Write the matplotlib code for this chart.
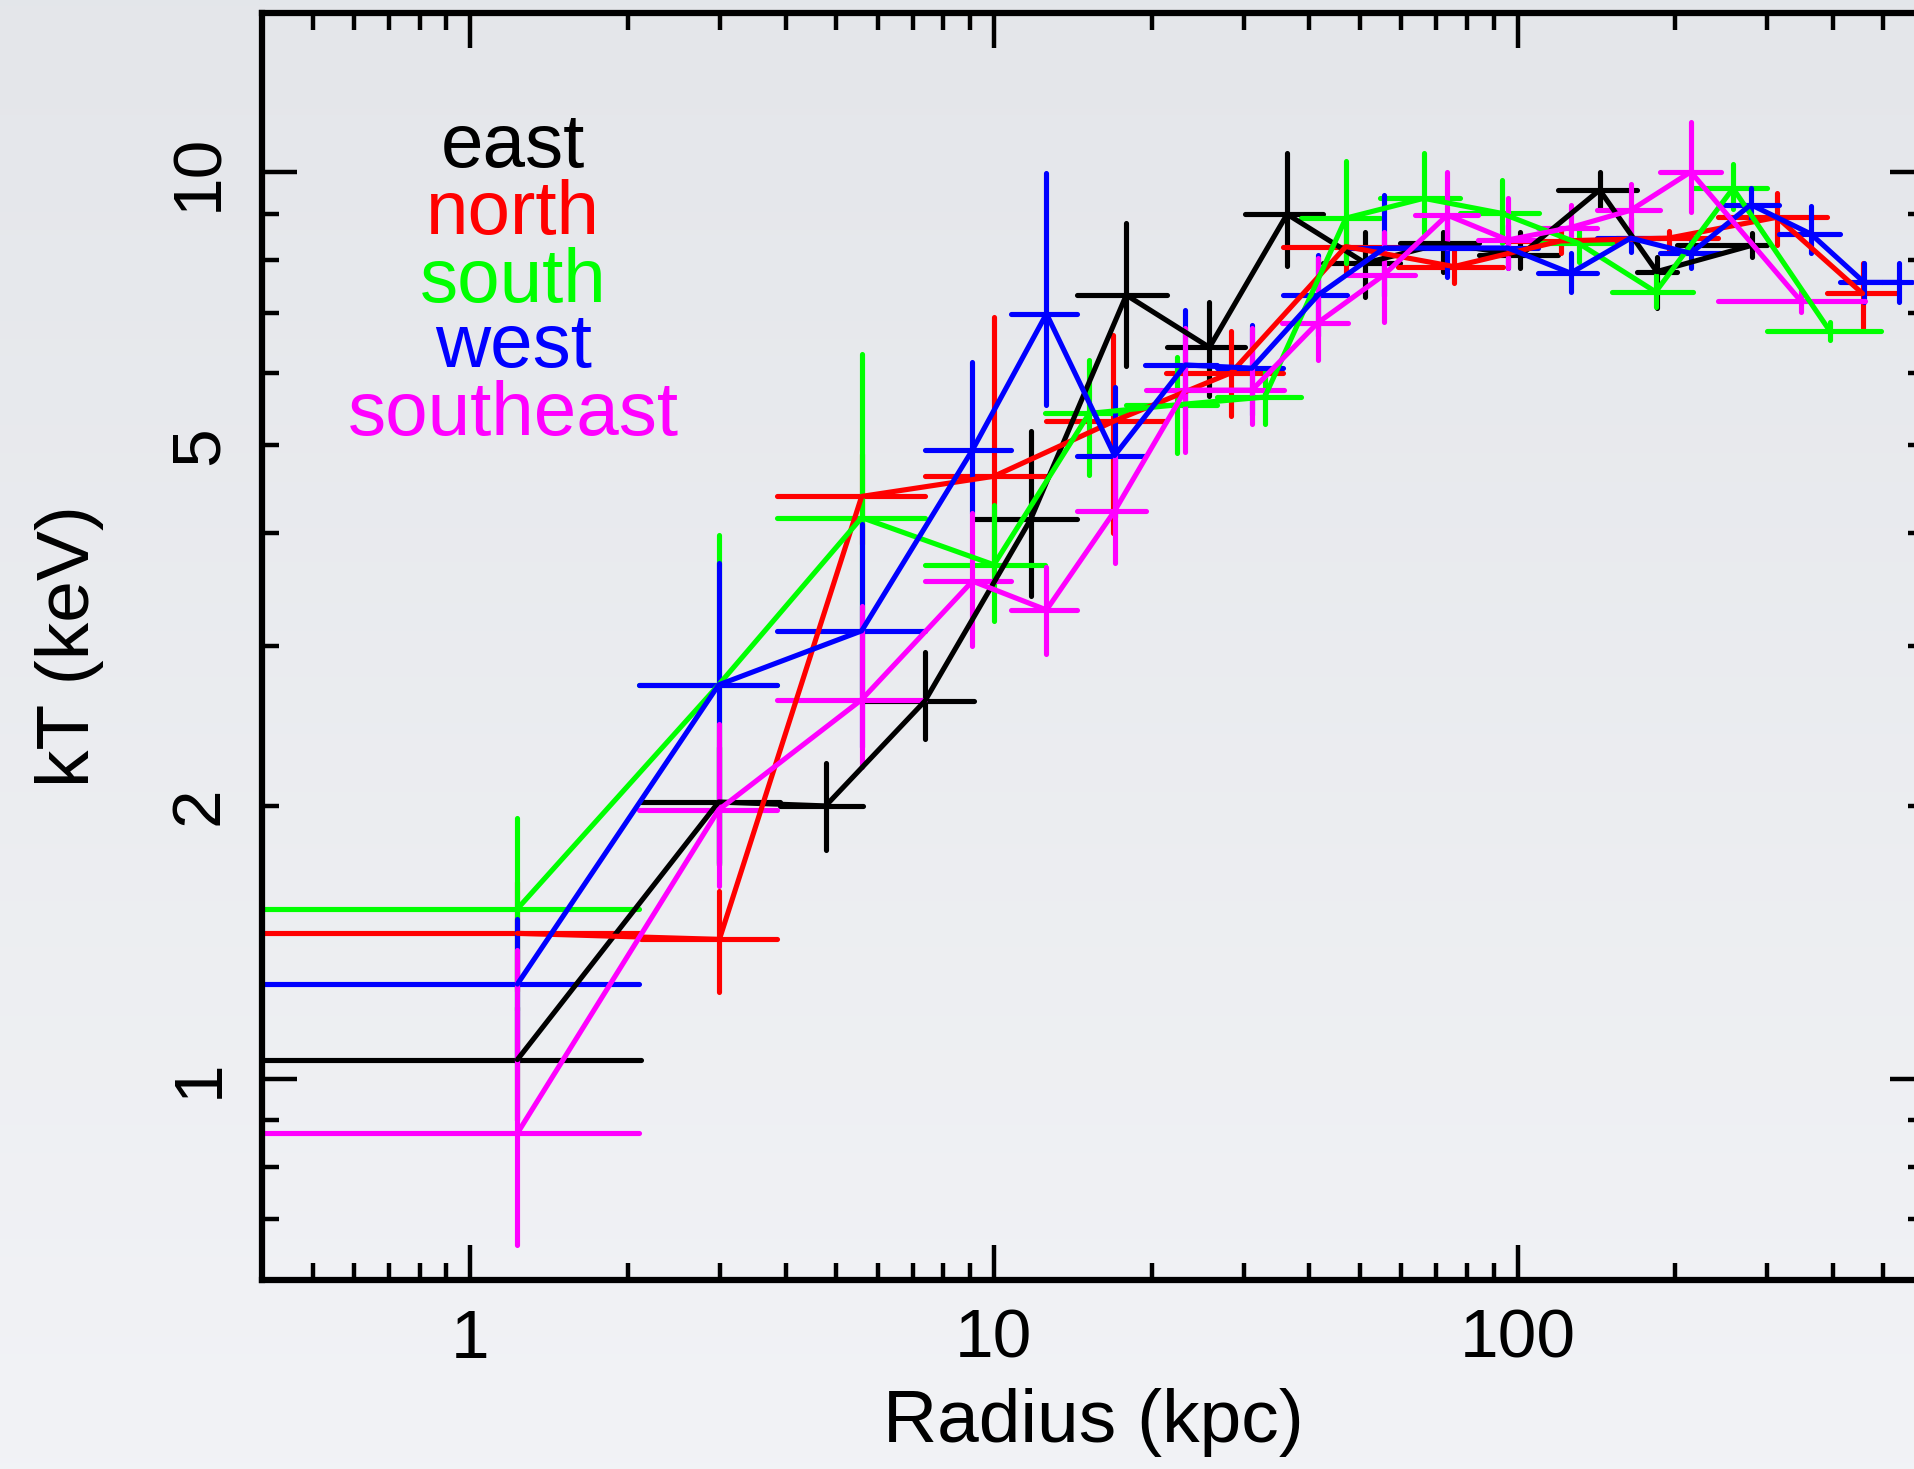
import matplotlib
matplotlib.use("Agg")
import matplotlib.pyplot as plt
import numpy as np
from matplotlib.ticker import LogLocator, FuncFormatter, NullFormatter

plt.rcParams['font.family'] = ['Liberation Sans', 'DejaVu Sans']

# east
east_x = [1.23, 2.98, 4.77, 7.38, 11.75, 17.9, 25.8, 36.3, 51.2, 72.0, 101.3, 143.5, 184.5, 281]
east_xlo = [0.1, 2.12, 3.90, 5.62, 9.15, 14.4, 21.4, 30.2, 42.6, 59.7, 84.6, 119.3, 169, 202]
east_xhi = [2.12, 3.90, 5.62, 9.15, 14.4, 21.4, 30.2, 42.6, 59.7, 84.6, 119.3, 169, 202, 300]
east_t = [1.05, 2.02, 2.00, 2.61, 4.14, 7.32, 6.41, 8.99, 7.94, 8.35, 8.10, 9.56, 7.77, 8.31]
east_tlo = [0.90, 1.72, 1.79, 2.37, 3.41, 6.11, 5.66, 7.89, 7.29, 7.77, 7.84, 9.11, 7.08, 8.07]
east_thi = [1.20, 2.32, 2.23, 2.96, 5.18, 8.80, 7.20, 10.5, 8.60, 8.60, 8.60, 10.0, 8.07, 8.56]

# north
north_x = [1.23, 2.99, 5.59, 10.0, 16.9, 28.4, 47.0, 75.6, 120.9, 194.4, 313, 456]
north_xlo = [0.1, 2.12, 3.85, 7.40, 12.6, 21.3, 35.6, 59.0, 94.0, 154, 241, 390]
north_xhi = [2.12, 3.85, 7.40, 12.6, 21.3, 35.6, 59.0, 94.0, 154, 241, 390, 532]
north_t = [1.447, 1.425, 4.39, 4.62, 5.31, 6.01, 8.28, 7.87, 8.40, 8.46, 8.92, 7.35]
north_tlo = [1.25, 1.246, 3.89, 3.62, 4.0, 5.38, 7.74, 7.54, 8.15, 8.16, 8.31, 6.73]
north_thi = [1.65, 1.61, 4.89, 6.92, 6.62, 6.69, 8.82, 8.21, 8.65, 8.62, 9.48, 7.94]

# south
south_x = [1.23, 2.98, 5.59, 10.0, 15.2, 22.4, 32.9, 47.0, 66.2, 93.2, 130.8, 183.6, 258, 395]
south_xlo = [0.1, 2.10, 3.85, 7.40, 12.5, 17.9, 26.7, 38.6, 54.7, 77.8, 110, 151.7, 216, 300]
south_xhi = [2.10, 3.85, 7.40, 12.5, 17.9, 26.7, 38.6, 54.7, 77.8, 110, 151.7, 216, 300, 494]
south_t = [1.54, 2.72, 4.16, 3.69, 5.42, 5.54, 5.65, 8.90, 9.36, 9.01, 8.35, 7.38, 9.60, 6.68]
south_tlo = [1.19, 1.72, 2.66, 3.20, 4.64, 4.90, 5.27, 7.95, 8.57, 8.35, 7.97, 7.11, 9.10, 6.53]
south_thi = [1.94, 3.98, 6.31, 4.30, 6.21, 6.26, 6.05, 10.3, 10.5, 9.80, 8.63, 7.70, 10.2, 6.83]

# west
west_x = [1.23, 2.98, 5.59, 9.1, 12.6, 17.0, 23.2, 31.1, 41.6, 55.7, 73.4, 95.9,
          126.3, 164.5, 214.2, 279, 363.3, 459.3, 535.9]
west_xlo = [0.1, 2.10, 3.85, 7.37, 10.8, 14.4, 19.4, 26.7, 35.7, 47.3, 63.8, 84.0,
            109.4, 141.6, 186.8, 244.4, 315.5, 412.8, 496.6]
west_xhi = [2.10, 3.85, 7.37, 10.8, 14.4, 19.4, 26.7, 35.7, 47.3, 63.8, 84.0, 109.4,
            141.6, 186.8, 244.4, 315.5, 412.8, 496.6, 566.6]
west_t = [1.272, 2.72, 3.12, 4.94, 6.98, 4.87, 6.13, 6.08, 7.32, 8.25, 8.25, 8.25,
          7.74, 8.46, 8.14, 9.21, 8.55, 7.56, 7.56]
west_tlo = [1.04, 1.73, 2.32, 4.21, 5.54, 4.17, 5.21, 5.40, 6.60, 7.30, 7.67, 7.85,
            7.38, 8.17, 7.84, 8.86, 8.14, 7.20, 7.20]
west_thi = [1.50, 3.71, 4.09, 6.18, 9.97, 5.80, 7.05, 6.79, 8.10, 9.44, 8.93, 8.75,
            8.14, 8.90, 8.38, 9.60, 9.18, 7.94, 7.94]

# southeast
se_x = [1.23, 2.98, 5.59, 9.1, 12.6, 17.0, 23.2, 31.1, 41.5, 55.5, 73.4, 95.8,
        126.3, 164.5, 214.2, 347.6]
se_xlo = [0.1, 2.10, 3.85, 7.37, 10.8, 14.4, 19.5, 26.7, 35.5, 47.5, 63.8, 84.0,
          109.4, 141.6, 186.8, 241]
se_xhi = [2.10, 3.85, 7.37, 10.8, 14.4, 19.5, 26.7, 35.8, 47.5, 63.8, 84.0, 109.4,
          141.6, 186.8, 244.4, 461]
se_t = [0.871, 1.98, 2.62, 3.54, 3.29, 4.23, 5.75, 5.75, 6.82, 7.70, 8.97, 8.42,
        8.69, 9.08, 10.01, 7.21]
se_tlo = [0.655, 1.63, 2.21, 3.0, 2.94, 3.71, 4.92, 5.27, 6.21, 6.84, 8.25, 7.84,
          8.49, 8.49, 9.05, 7.02]
se_thi = [1.386, 2.46, 3.32, 4.21, 3.67, 4.90, 6.73, 6.73, 8.05, 8.60, 10.0, 9.36,
          9.21, 9.70, 11.37, 7.41]

names = ["east", "north", "south", "west", "southeast"]
colors = ["#000000", "#ff0000", "#00ff00", "#0000ff", "#ff00ff"]
series = [
    (east_x, east_xlo, east_xhi, east_t, east_tlo, east_thi),
    (north_x, north_xlo, north_xhi, north_t, north_tlo, north_thi),
    (south_x, south_xlo, south_xhi, south_t, south_tlo, south_thi),
    (west_x, west_xlo, west_xhi, west_t, west_tlo, west_thi),
    (se_x, se_xlo, se_xhi, se_t, se_tlo, se_thi),
]

fig = plt.figure(figsize=(19.15, 14.69), dpi=100)

# soft grey backdrop, slightly darker at the top
bg = fig.add_axes([0, 0, 1, 1], zorder=-10)
grad = np.linspace(0, 1, 256).reshape(-1, 1)
top = np.array([0.894, 0.902, 0.918])
bot = np.array([0.949, 0.953, 0.965])
img = top + (bot - top) * grad[..., None]
bg.imshow(img, aspect="auto", extent=[0, 1, 0, 1])
bg.axis("off")

ax = fig.add_axes([0.1368, 0.1287, 0.8684, 0.8627])
ax.set_facecolor("none")

for (x, xlo, xhi, t, tlo, thi), c in zip(series, colors):
    x = np.array(x); t = np.array(t)
    xerr = [x - np.array(xlo), np.array(xhi) - x]
    terr = [t - np.array(tlo), np.array(thi) - t]
    _, _, bars = ax.errorbar(x, t, xerr=xerr, yerr=terr, color=c, lw=3.7,
                             elinewidth=3.7, capsize=0, solid_capstyle="round")
    for b in bars:
        b.set_capstyle("round")

ax.set_xscale("log")
ax.set_yscale("log")
ax.set_xlim(0.4, 600)
ax.set_ylim(0.6, 15)

ax.xaxis.set_major_locator(LogLocator(base=10))
ax.xaxis.set_minor_locator(LogLocator(base=10, subs=range(2, 10)))
ax.xaxis.set_major_formatter(FuncFormatter(lambda v, p: f"{v:g}"))
ax.xaxis.set_minor_formatter(NullFormatter())

ax.yaxis.set_major_locator(LogLocator(base=10))
ax.yaxis.set_minor_locator(LogLocator(base=10, subs=range(2, 10)))
ax.yaxis.set_major_formatter(FuncFormatter(lambda v, p: f"{v:g}"))
ax.yaxis.set_minor_formatter(FuncFormatter(
    lambda v, p: f"{v:g}" if abs(v - 2) < 1e-6 or abs(v - 5) < 1e-6 else ""))

ax.tick_params(which="both", direction="in", top=True, right=True, width=3.2,
               labelsize=50, colors="black")
ax.tick_params(which="major", length=25)
ax.tick_params(which="minor", length=12)
ax.tick_params(axis="x", which="both", pad=20)
ax.tick_params(axis="y", which="both", pad=22, labelrotation=90)
for lab in ax.get_yticklabels(which="both"):
    lab.set_va("center")

for sp in ax.spines.values():
    sp.set_linewidth(4.5)

ax.set_xlabel("Radius (kpc)", fontsize=54, labelpad=12)
ax.set_ylabel("kT (keV)", fontsize=54, labelpad=46)

label_y = [0.878, 0.825, 0.772, 0.72, 0.667]
for name, c, yy in zip(names, colors, label_y):
    ax.text(0.151, yy, name, color=c, fontsize=55, ha="center", va="baseline",
            transform=ax.transAxes)

fig.savefig("out.png", dpi=100)
